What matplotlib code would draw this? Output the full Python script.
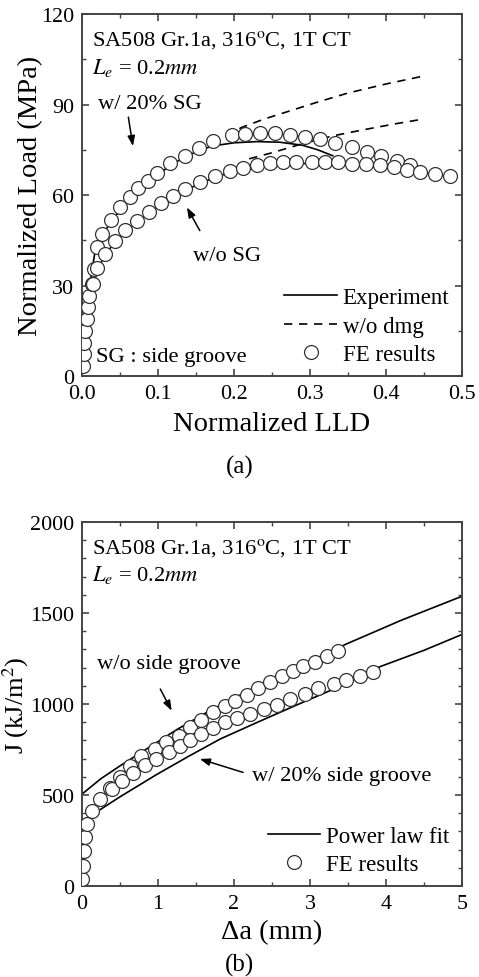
import matplotlib
matplotlib.use("Agg")
import matplotlib.pyplot as plt
from matplotlib.ticker import MultipleLocator

plt.rcParams['font.family'] = ['Liberation Serif', 'DejaVu Serif']
plt.rcParams['mathtext.fontset'] = 'stix'

# ---------------- (a) Load vs LLD ----------------
fe_sg_x = [0.001, 0.002, 0.003, 0.004, 0.006, 0.008, 0.0096, 0.013, 0.016, 0.02, 0.026,
           0.038, 0.05, 0.063, 0.074, 0.087, 0.099, 0.116, 0.135, 0.154, 0.173, 0.197,
           0.214, 0.234, 0.254, 0.274, 0.293, 0.313, 0.333, 0.355, 0.375, 0.394, 0.414, 0.432]
fe_sg_y = [3.4, 7.3, 11.1, 15, 18.9, 22.8, 26.6, 30.5, 35.5, 42.6, 47,
           51.8, 55.9, 59.2, 62.2, 64.7, 67.3, 70.6, 73, 75.5, 78, 79.9,
           80.1, 80.5, 80.5, 79.9, 79.3, 78.6, 77.2, 75.8, 74.1, 72.8, 71.4, 70.0]

fe_nosg_x = [0.015, 0.02, 0.03, 0.043, 0.057, 0.072, 0.088, 0.104, 0.12, 0.136, 0.155,
             0.175, 0.195, 0.212, 0.230, 0.247, 0.265, 0.282, 0.302, 0.320, 0.337, 0.355,
             0.374, 0.392, 0.410, 0.427, 0.445, 0.464, 0.484]
fe_nosg_y = [30.5, 35.7, 40.5, 44.8, 48.5, 51.5, 54.5, 57.2, 59.7, 62, 64.3,
             66.3, 68, 69.1, 69.9, 70.6, 70.8, 70.8, 71, 71, 70.8, 70.3,
             70.3, 69.9, 69.2, 68.4, 67.7, 67, 66.2]

exp_sg_x = [0, 0.003, 0.006, 0.01, 0.017, 0.026, 0.038, 0.05, 0.063, 0.074, 0.087, 0.099,
            0.116, 0.135, 0.154, 0.173, 0.2, 0.23, 0.26, 0.29, 0.31, 0.33]
exp_sg_y = [0, 9, 18, 30, 41, 46.5, 51, 55, 58.5, 61.5, 64, 66.5,
            69.8, 72.5, 74.8, 76.3, 77.3, 77.7, 77.5, 76.5, 75, 73]

exp_nosg_x = [0, 0.005, 0.01, 0.015, 0.02, 0.03, 0.043, 0.057, 0.072, 0.088, 0.104, 0.12,
              0.136, 0.155, 0.175, 0.195, 0.212, 0.23, 0.25, 0.28, 0.31, 0.34, 0.37, 0.40,
              0.43, 0.45]
exp_nosg_y = [0, 12, 24, 30, 35, 40, 44.3, 48, 51, 54, 56.7, 59.2,
              61.5, 63.8, 65.8, 67.5, 68.6, 69.4, 70.1, 70.4, 70.5, 70.3, 69.8, 69.0,
              67.8, 67.0]

nodmg_sg_x = [0.19, 0.21, 0.24, 0.27, 0.31, 0.35, 0.40, 0.445]
nodmg_sg_y = [79.5, 82.4, 85.2, 87.6, 90.8, 93.8, 96.8, 99.2]
nodmg_nosg_x = [0.22, 0.25, 0.29, 0.33, 0.37, 0.41, 0.45]
nodmg_nosg_y = [72, 74, 77, 79.6, 81.6, 83.5, 85.2]

# ---------------- (b) J-R curves ----------------
fe_j_nosg_x = [0.0, 0.01, 0.02, 0.04, 0.07, 0.13, 0.24, 0.37, 0.50, 0.63, 0.78, 0.96,
               1.11, 1.27, 1.42, 1.57, 1.73, 1.88, 2.01, 2.17, 2.32, 2.47, 2.63, 2.77,
               2.91, 3.07, 3.22, 3.37]
fe_j_nosg_y = [38, 112, 193, 267, 341, 410, 478, 540, 600, 660, 712, 753,
               790, 826, 872, 912, 954, 987, 1018, 1049, 1086, 1119, 1152, 1183,
               1210, 1232, 1262, 1290]

fe_j_sg_x = [0.39, 0.52, 0.675, 0.83, 0.98, 1.14, 1.29, 1.42, 1.57, 1.73, 1.88, 2.04,
             2.21, 2.39, 2.56, 2.74, 2.93, 3.11, 3.31, 3.48, 3.66, 3.83]
fe_j_sg_y = [533, 575, 620, 665, 700, 734, 771, 800, 835, 870, 899, 921,
             945, 973, 995, 1027, 1055, 1086, 1110, 1132, 1152, 1177]

fit_nosg_x = [0, 0.25, 0.5, 0.85, 1.25, 1.68, 2.2, 2.8, 3.48, 4.2, 5.0]
fit_nosg_y = [505, 590, 660, 753, 860, 963, 1075, 1195, 1330, 1460, 1592]
fit_sg_x = [0.24, 0.5, 0.98, 1.4, 1.82, 2.3, 2.8, 3.3, 3.92, 4.5, 5.0]
fit_sg_y = [420, 490, 612, 712, 808, 898, 990, 1080, 1205, 1295, 1382]

W, H = 479, 978
fig = plt.figure(figsize=(W / 100, H / 100), dpi=100)

def axes_px(l, r, t, b):
    return fig.add_axes([l / W, 1 - b / H, (r - l) / W, (b - t) / H])

ax1 = axes_px(82, 462, 15, 377)
ax2 = axes_px(82, 462, 523, 887)

frame_c = '#444444'
mk = dict(marker='o', ms=10, mfc='white', mec='#333333', mew=0.9, ls='none')
TXT = 16.2
LEG = 16.5
LAB = 20.5

def style(ax):
    for s in ax.spines.values():
        s.set_color(frame_c)
        s.set_linewidth(1.4)
    ax.tick_params(which='both', direction='in', top=True, right=True,
                   color=frame_c, labelsize=15.8, pad=5.5)
    ax.tick_params(which='major', length=5, width=1.2)
    ax.tick_params(which='minor', length=3, width=1.0)

# ----- panel (a)
ax1.plot(exp_sg_x, exp_sg_y, color='black', lw=1.2, zorder=2)
ax1.plot(exp_nosg_x, exp_nosg_y, color='black', lw=1.2, zorder=2)
ax1.plot(nodmg_sg_x, nodmg_sg_y, color='black', lw=1.2, ls=(0, (5, 4)), zorder=2)
ax1.plot(nodmg_nosg_x, nodmg_nosg_y, color='black', lw=1.2, ls=(0, (5, 4)), zorder=2)
ax1.plot(fe_sg_x, fe_sg_y, zorder=3, **mk)
ax1.plot(fe_nosg_x, fe_nosg_y, zorder=3, **mk)
ax1.set_xlim(0, 0.5)
ax1.set_ylim(0, 120)
ax1.xaxis.set_major_locator(MultipleLocator(0.1))
ax1.xaxis.set_minor_locator(MultipleLocator(0.05))
ax1.yaxis.set_major_locator(MultipleLocator(30))
ax1.yaxis.set_minor_locator(MultipleLocator(15))
ax1.set_xticks([0, 0.1, 0.2, 0.3, 0.4, 0.5])
ax1.set_xticklabels(['0.0', '0.1', '0.2', '0.3', '0.4', '0.5'])
style(ax1)
ax1.set_xlabel('Normalized LLD', fontsize=LAB, labelpad=6)
ax1.set_ylabel('Normalized Load (MPa)', fontsize=LAB)
ax1.yaxis.set_label_coords((43 - 82) / 380, 0.5)

ax1.text(0.013, 111.7, r'SA508 Gr.1a, 316$^{\mathrm{o}}$C, 1T CT', fontsize=TXT,
         va='center', ha='left')
ax1.text(0.013, 102.5, r'$L_e$ = 0.2$mm$', fontsize=TXT, va='center', ha='left')
ax1.text(0.021, 90.2, 'w/ 20% SG', fontsize=TXT, va='center', ha='left')
ax1.text(0.146, 39.8, 'w/o SG', fontsize=TXT, va='center', ha='left')
ax1.text(0.019, 6.6, 'SG : side groove', fontsize=TXT, va='center', ha='left')
arr = dict(arrowstyle='-|>,head_length=0.6,head_width=0.22', color='black', lw=1.1,
           shrinkA=0, shrinkB=0)
ax1.annotate('', xy=(0.067, 76.2), xytext=(0.061, 85.8), arrowprops=arr)
ax1.annotate('', xy=(0.138, 55.9), xytext=(0.155, 48.2), arrowprops=arr)

h1, = ax1.plot([], [], color='black', lw=1.2)
h2, = ax1.plot([], [], color='black', lw=1.2, ls=(0, (5, 4)))
h3, = ax1.plot([], [], **mk)
ax1.legend([h1, h2, h3], ['Experiment', 'w/o dmg', 'FE results'], loc='lower right',
           bbox_to_anchor=(1.0, -0.005), frameon=False, fontsize=LEG, handlelength=2.3,
           handletextpad=0.25, labelspacing=0.33, borderaxespad=0.15)

# ----- panel (b)
ax2.plot(fit_nosg_x, fit_nosg_y, color='black', lw=1.2, zorder=2)
ax2.plot(fit_sg_x, fit_sg_y, color='black', lw=1.2, zorder=2)
ax2.plot(fe_j_nosg_x, fe_j_nosg_y, zorder=3, **mk)
ax2.plot(fe_j_sg_x, fe_j_sg_y, zorder=3, **mk)
ax2.set_xlim(0, 5)
ax2.set_ylim(0, 2000)
ax2.xaxis.set_major_locator(MultipleLocator(1))
ax2.xaxis.set_minor_locator(MultipleLocator(0.5))
ax2.yaxis.set_major_locator(MultipleLocator(500))
ax2.yaxis.set_minor_locator(MultipleLocator(100))
style(ax2)
ax2.set_xlabel('Δa (mm)', fontsize=LAB, labelpad=5)
ax2.set_ylabel(r'J (kJ/m$^2$)', fontsize=19)
ax2.yaxis.set_label_coords((31 - 82) / 380, 0.5)

ax2.text(0.13, 1863, r'SA508 Gr.1a, 316$^{\mathrm{o}}$C, 1T CT', fontsize=TXT,
         va='center', ha='left')
ax2.text(0.13, 1714, r'$L_e$ = 0.2$mm$', fontsize=TXT, va='center', ha='left')
ax2.text(0.2, 1220, 'w/o side groove', fontsize=TXT, va='center', ha='left')
ax2.text(2.24, 606, 'w/ 20% side groove', fontsize=TXT, va='center', ha='left')
ax2.annotate('', xy=(1.18, 963), xytext=(1.03, 1082), arrowprops=arr)
ax2.annotate('', xy=(1.55, 698), xytext=(2.12, 624), arrowprops=arr)

g1, = ax2.plot([], [], color='black', lw=1.2)
g2, = ax2.plot([], [], **mk)
ax2.legend([g1, g2], ['Power law fit', 'FE results'], loc='lower right',
           bbox_to_anchor=(1.0, -0.005), frameon=False, fontsize=LEG, handlelength=2.3,
           handletextpad=0.25, labelspacing=0.33, borderaxespad=0.15)

fig.text(240 / W, 1 - 467 / H, '(a)', fontsize=18, ha='center', va='center')
fig.text(240 / W, 1 - 977 / H, '(b)', fontsize=18, ha='center', va='bottom')

fig.savefig('out.png', dpi=100)
